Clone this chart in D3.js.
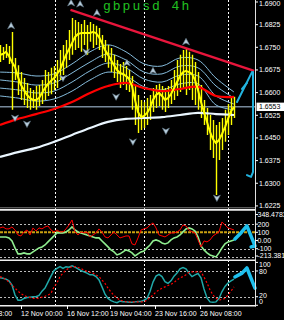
<!DOCTYPE html>
<html><head><meta charset="utf-8">
<script src="https://cdn.jsdelivr.net/npm/d3@7"></script>
<style>
html,body{margin:0;padding:0;background:#000;overflow:hidden}
svg{display:block}
text{font-family:"Liberation Sans",Arial,sans-serif}
</style></head><body>
<svg id="c" width="284" height="320"></svg>
<script>
// ---------- data ----------
const closeP = [1.6725,1.6728,1.6735,1.6721,1.6701,1.6685,1.6652,1.6625,1.6609,1.6592,
1.6582,1.6576,1.6576,1.6582,1.6599,1.6615,1.6629,1.6639,1.6648,1.6662,
1.6675,1.6701,1.6725,1.6744,1.6764,1.6784,1.6794,1.6797,1.6797,1.6797,
1.6797,1.6801,1.6797,1.6784,1.6764,1.6741,1.6725,1.6708,1.6691,1.6675,
1.6665,1.6662,1.6655,1.6645,1.6622,1.6576,1.6536,1.6519,1.6523,1.6533,
1.6549,1.6576,1.6592,1.6599,1.6589,1.6576,1.6582,1.6595,1.6615,1.6635,
1.6655,1.6668,1.6672,1.6668,1.6662,1.6642,1.6609,1.6569,1.6536,1.6503,
1.6470,1.6446,1.6433,1.6443,1.6463,1.6486,1.6513,1.6539,1.6552];
const highP = [1.6758,1.6751,1.6761,1.6754,1.6801,1.6715,1.6691,1.6668,1.6648,1.6632,
1.6615,1.6609,1.6622,1.6625,1.6642,1.6675,1.6668,1.6682,1.6688,1.6708,
1.6741,1.6758,1.6774,1.6807,1.6847,1.6840,1.6834,1.6827,1.6840,1.6824,
1.6834,1.6827,1.6821,1.6814,1.6791,1.6774,1.6758,1.6748,1.6725,1.6708,
1.6695,1.6701,1.6688,1.6675,1.6655,1.6625,1.6592,1.6576,1.6569,1.6582,
1.6592,1.6615,1.6625,1.6629,1.6622,1.6615,1.6622,1.6642,1.6675,1.6708,
1.6725,1.6741,1.6748,1.6735,1.6725,1.6701,1.6668,1.6625,1.6576,1.6549,
1.6526,1.6509,1.6493,1.6503,1.6516,1.6543,1.6562,1.6586,1.6586];
const lowP = [1.6701,1.6708,1.6715,1.6695,1.6543,1.6642,1.6592,1.6576,1.6559,1.6549,
1.6543,1.6549,1.6543,1.6556,1.6562,1.6576,1.6589,1.6595,1.6609,1.6615,
1.6642,1.6658,1.6682,1.6708,1.6725,1.6741,1.6748,1.6735,1.6758,1.6725,
1.6768,1.6748,1.6758,1.6741,1.6715,1.6701,1.6682,1.6668,1.6648,1.6635,
1.6615,1.6625,1.6609,1.6602,1.6543,1.6493,1.6466,1.6476,1.6483,1.6493,
1.6509,1.6536,1.6549,1.6556,1.6543,1.6536,1.6549,1.6562,1.6576,1.6589,
1.6602,1.6615,1.6592,1.6609,1.6576,1.6559,1.6543,1.6516,1.6493,1.6460,
1.6410,1.6384,1.6261,1.6377,1.6410,1.6437,1.6460,1.6493,1.6516];

const maIdx   = [0,6,12,18,24,30,36,42,48,54,60,66,72,78];
const maRed   = [1.6493,1.6513,1.6529,1.6546,1.6569,1.6599,1.6622,1.6632,1.6615,1.6605,1.6612,1.6619,1.6589,1.6586];
const maWhite = [1.6387,1.6403,1.6417,1.6437,1.6460,1.6483,1.6503,1.6513,1.6516,1.6519,1.6526,1.6533,1.6529,1.6526];
const env1 = [1.6668,1.6665,1.6655,1.6662,1.6695,1.6735,1.6758,1.6735,1.6695,1.6688,1.6715,1.6708,1.6648,1.6602];
const env2 = [1.6642,1.6635,1.6625,1.6632,1.6665,1.6701,1.6728,1.6708,1.6668,1.6662,1.6688,1.6682,1.6622,1.6582];
const env3 = [1.6615,1.6609,1.6599,1.6605,1.6635,1.6672,1.6698,1.6682,1.6645,1.6635,1.6658,1.6655,1.6589,1.6562];
const env4 = [1.6589,1.6582,1.6572,1.6579,1.6605,1.6642,1.6668,1.6655,1.6619,1.6609,1.6629,1.6629,1.6559,1.6543];

const upFracIdx = [3.7,23.7,26.7,32.3,42.3,51,62];
const upFracP   = [1.6821,1.6897,1.6893,1.6864,1.6698,1.6672,1.6768];
const dnFracIdx = [5,9,21,28.7,38.7,44.3,55.3,72.3];
const dnFracP   = [1.6516,1.6496,1.6648,1.6735,1.6586,1.6437,1.6473,1.6251];

const trendIdx = [23.5,84.7];
const trendP   = [1.6874,1.6672];
const lastPrice = 1.6553;
const priceTicks = [1.6900,1.6825,1.6750,1.6675,1.6600,1.6525,1.6450,1.6375,1.6300,1.6225];

const cyanArrowIdx = [79,84];            const cyanArrowP = [1.6569,1.6668];
const cyanTickIdx  = [80.67,82.33];      const cyanTickP  = [1.6612,1.6632];
const cyanVertIdx  = [84.33,84.33,83.67,82.33]; const cyanVertP = [1.6668,1.6337,1.6321,1.6327];

const cciRed = [154,166,142,142,166,129,68,56,105,129,
68,154,117,154,142,166,178,129,105,129,
105,105,142,190,251,105,68,105,93,105,
44,68,93,142,105,44,32,68,105,68,
32,44,56,56,-41,-54,32,129,142,154,
190,215,154,68,56,44,68,93,93,105,
129,190,178,129,105,93,7,-78,-5,-17,
7,56,81,105,227,190,154,142,129];
const cciGreen = [44,44,44,32,-5,-90,-163,-163,-151,-163,
-163,-139,-115,-90,-78,-54,-17,20,56,93,
93,93,105,129,166,129,105,93,81,68,
56,44,32,32,-5,-41,-78,-115,-139,-176,
-163,-139,-115,-127,-151,-188,-163,-139,-127,-90,
-54,-5,7,-5,-29,-41,-29,7,32,44,
68,105,142,154,142,117,44,-66,-115,-151,
-176,-188,-200,-151,-90,-41,-17,-5,7];
const cciMax = 348.4783, cciMin = -213.381;
const cciGrayLevels = [200,-100,-200];
const cciGoldLevel = 100;
const cciLabelVals = [348.4783,200,100,0,-100,-213.381];
const cciLabelTxt  = ["348.4783","200","100","0.00","-100","-213.381"];
const cciCyanIdx = [78.3,80.3,82.3,85,83.7];
const cciCyanV   = [20,93,178,-66,-78];

const stochMain = [64,63,61,57,47,24,12,12,16,18,
19,20,20,23,33,40,54,68,81,86,
90,86,90,89,92,89,85,81,78,75,
71,71,67,59,43,26,16,11,8,6,
10,8,8,7,7,8,9,9,12,16,
32,54,68,72,67,55,51,57,68,75,
85,88,85,75,67,71,74,64,38,17,
8,7,8,16,32,44,52,57,61];
const stochSignal = [67,64,60,54,47,40,33,27,23,20,
18,16,16,17,19,21,24,28,43,52,
67,75,82,87,90,90,88,86,82,79,
77,75,71,67,59,51,40,31,23,17,
12,10,8,8,8,8,8,8,8,12,
18,24,31,36,40,43,46,49,53,59,
64,67,71,77,78,78,78,78,66,52,
36,24,17,12,14,16,24,33,43];
const stochLevels = [80,20];
const stochLabelVals = [100,80,20,0];
const stochLabelTxt  = ["100","80","20","0"];
const stochCyanIdx = [78.3,80.7,82.3,85];
const stochCyanV   = [66,75,87,40];

const timeIdx = [-8.5,7,22.33,36.67,51.67,66.67];
const timeLabels = ["8 Nov 08:00","12 Nov 00:00","16 Nov 12:00","19 Nov 04:00","23 Nov 16:00","26 Nov 08:00"];
const sepIdx = [18.33,48,76];
const title = "gbpusd 4h";

// ---------- scales ----------
const svg = d3.select('#c');
const x  = d3.scaleLinear().domain([0,85]).range([0,255]);
const yM = d3.scaleLinear().domain([1.62181,1.69066]).range([208,0]);
const yC = d3.scaleLinear().domain([cciMin,cciMax]).range([258,212]);
const yS = d3.scaleLinear().domain([0,100]).range([305.3,262.4]);
const AX = 255.5;

svg.append('rect').attr('width',284).attr('height',320).attr('fill','#000');
const defs = svg.append('defs');
function clip(id,y0,h){defs.append('clipPath').attr('id',id).append('rect').attr('x',0).attr('y',y0).attr('width',AX).attr('height',h);}
clip('cm',0,208); clip('c1',211,48); clip('c2',261,44);

// separators (all panels)
svg.append('g').selectAll('line').data(sepIdx).join('line')
  .attr('x1',d=>Math.round(x(d))+0.5).attr('x2',d=>Math.round(x(d))+0.5)
  .attr('y1',0).attr('y2',305).attr('stroke','#fff').attr('stroke-width',1).attr('stroke-dasharray','2,2');

// ---------- main panel ----------
const gm = svg.append('g').attr('clip-path','url(#cm)');
gm.append('line').attr('x1',0).attr('x2',AX).attr('y1',yM(lastPrice)).attr('y2',yM(lastPrice))
  .attr('stroke','#778899').attr('stroke-width',1.5);

const lineMA = d3.line().x((d,i)=>x(maIdx[i])).y(d=>yM(d)).curve(d3.curveCatmullRom);
[env1,env2,env3,env4].forEach(e=>gm.append('path').attr('d',lineMA(e)).attr('fill','none').attr('stroke','#86bcdc').attr('stroke-width',1));

gm.append('g').selectAll('line').data(closeP).join('line')
  .attr('x1',(d,i)=>Math.round(x(i))+0.5).attr('x2',(d,i)=>Math.round(x(i))+0.5)
  .attr('y1',(d,i)=>yM(highP[i])).attr('y2',(d,i)=>yM(lowP[i]))
  .attr('stroke','#ffff00').attr('stroke-width',1.4);

gm.append('path').attr('d',lineMA(maWhite)).attr('fill','none').attr('stroke','#eaf6ff').attr('stroke-width',2.2);
gm.append('path').attr('d',lineMA(maRed)).attr('fill','none').attr('stroke','#ff0000').attr('stroke-width',2.2);

const lineClose = d3.line().x((d,i)=>x(i)).y(d=>yM(d));
gm.append('path').attr('d',lineClose(closeP)).attr('fill','none').attr('stroke','#ffff00').attr('stroke-width',2).attr('stroke-linejoin','round');

const pt = (ix,py)=>ix.map((v,i)=>[x(v),yM(py[i])]);
gm.append('path').attr('d',d3.line()(pt(trendIdx,trendP))).attr('stroke','#e8163c').attr('stroke-width',2.2).attr('fill','none');

// fractals
const upPath = 'M0,-3.5L3.5,3L0,1.2L-3.5,3Z', dnPath = 'M0,3.5L3.5,-3L0,-1.2L-3.5,-3Z';
gm.append('g').selectAll('path').data(upFracIdx).join('path')
  .attr('transform',(d,i)=>`translate(${x(d)},${yM(upFracP[i])})`).attr('d',upPath)
  .attr('fill','#b8cddc').attr('stroke','#5f7585').attr('stroke-width',0.6);
gm.append('g').selectAll('path').data(dnFracIdx).join('path')
  .attr('transform',(d,i)=>`translate(${x(d)},${yM(dnFracP[i])})`).attr('d',dnPath)
  .attr('fill','#b8cddc').attr('stroke','#5f7585').attr('stroke-width',0.6);

// cyan annotations in main panel
const gcy = svg.append('g').attr('fill','none').attr('stroke','#22b4e0').attr('stroke-width',2).attr('stroke-linecap','round').attr('stroke-linejoin','round');
gcy.append('path').attr('d',d3.line()(pt(cyanArrowIdx,cyanArrowP)));
gcy.append('path').attr('d',d3.line()(pt(cyanTickIdx,cyanTickP)));
gcy.append('path').attr('d',d3.line()(pt(cyanVertIdx,cyanVertP)));

// title
svg.append('text').attr('x',103).attr('y',10).text(title)
  .attr('fill','#20c020').style('font-family','"Liberation Mono",monospace').style('font-size','13px').style('letter-spacing','2px');

// ---------- panel 1 (CCI) ----------
const g1 = svg.append('g').attr('clip-path','url(#c1)');
g1.selectAll('line.lv').data(cciGrayLevels).join('line').attr('class','lv')
  .attr('x1',0).attr('x2',AX).attr('y1',d=>Math.round(yC(d))+0.5).attr('y2',d=>Math.round(yC(d))+0.5)
  .attr('stroke','#bbbbbb').attr('stroke-width',1).attr('stroke-dasharray','2,2');
g1.append('line').attr('x1',0).attr('x2',AX).attr('y1',yC(cciGoldLevel)).attr('y2',yC(cciGoldLevel))
  .attr('stroke','#c9a010').attr('stroke-width',2).attr('stroke-dasharray','3,1');
const lineC = d3.line().x((d,i)=>x(i)).y(d=>yC(d));
g1.append('path').attr('d',lineC(cciGreen)).attr('fill','none').attr('stroke','#90ee90').attr('stroke-width',1.6);
g1.append('path').attr('d',lineC(cciRed)).attr('fill','none').attr('stroke','#ff0000').attr('stroke-width',1);
svg.append('path').attr('d',d3.line()(cciCyanIdx.map((v,i)=>[x(v),yC(cciCyanV[i])])))
  .attr('fill','none').attr('stroke','#1ec0ee').attr('stroke-width',3.5).attr('stroke-linejoin','round').attr('stroke-linecap','round');

// ---------- panel 2 (Stochastic) ----------
const g2 = svg.append('g').attr('clip-path','url(#c2)');
g2.selectAll('line.lv').data(stochLevels).join('line').attr('class','lv')
  .attr('x1',0).attr('x2',AX).attr('y1',d=>Math.round(yS(d))+0.5).attr('y2',d=>Math.round(yS(d))+0.5)
  .attr('stroke','#bbbbbb').attr('stroke-width',1).attr('stroke-dasharray','2,2');
const lineS = d3.line().x((d,i)=>x(i)).y(d=>yS(d));
g2.append('path').attr('d',lineS(stochMain)).attr('fill','none').attr('stroke','#20a8a8').attr('stroke-width',1.5);
g2.append('path').attr('d',lineS(stochSignal)).attr('fill','none').attr('stroke','#ff0000').attr('stroke-width',1.2).attr('stroke-dasharray','2,2');
svg.append('path').attr('d',d3.line()(stochCyanIdx.map((v,i)=>[x(v),yS(stochCyanV[i])])))
  .attr('fill','none').attr('stroke','#1ec0ee').attr('stroke-width',3.5).attr('stroke-linejoin','round').attr('stroke-linecap','round');

// ---------- frames ----------
const fr = svg.append('g');
fr.append('line').attr('x1',0).attr('x2',AX).attr('y1',207.8).attr('y2',207.8).attr('stroke','#808080').attr('stroke-width',1);
[209.9,260.2,305.8].forEach(y=>fr.append('line').attr('x1',0).attr('x2',AX+0.5).attr('y1',y).attr('y2',y).attr('stroke','#f0f0f0').attr('stroke-width',1.6));
fr.append('line').attr('x1',AX).attr('x2',AX).attr('y1',0).attr('y2',306.5).attr('stroke','#e0e0e0').attr('stroke-width',1);

// ---------- axes labels ----------
const lab = svg.append('g').style('font-size','7px').attr('fill','#ffffff');
priceTicks.forEach(v=>{
  const y = yM(v);
  fr.append('line').attr('x1',AX).attr('x2',AX+2.5).attr('y1',y).attr('y2',y).attr('stroke','#fff').attr('stroke-width',1);
  lab.append('text').attr('x',259).attr('y',Math.max(3.6,y)).attr('dy','0.35em').text(v.toFixed(4));
});
// current price box
const yl = yM(lastPrice);
svg.append('rect').attr('x',256.5).attr('y',yl-4.2).attr('width',28).attr('height',8.4).attr('fill','#ffffff');
svg.append('text').attr('x',259).attr('y',yl).attr('dy','0.35em').style('font-size','7px').attr('fill','#000').text(lastPrice.toFixed(4));

cciLabelVals.forEach((v,i)=>{
  const y = Math.max(214.5,Math.min(256,yC(v)));
  fr.append('line').attr('x1',AX).attr('x2',AX+2.5).attr('y1',y).attr('y2',y).attr('stroke','#fff');
  lab.append('text').attr('x',257.5).attr('y',y).attr('dy','0.35em').text(cciLabelTxt[i]);
});
const stochLabelY = v => Math.max(265,Math.min(301.8,yS(v) + (v===20?-1.6:0) + (v===80?0.6:0)));
stochLabelVals.forEach((v,i)=>{
  const y = stochLabelY(v);
  fr.append('line').attr('x1',AX).attr('x2',AX+2.5).attr('y1',yS(v)).attr('y2',yS(v)).attr('stroke','#fff');
  lab.append('text').attr('x',259).attr('y',y).attr('dy','0.35em').text(stochLabelTxt[i]);
});
timeIdx.forEach((v,i)=>{
  const xx = Math.round(x(v))+0.5;
  fr.append('line').attr('x1',xx).attr('x2',xx).attr('y1',305.8).attr('y2',309).attr('stroke','#fff');
  lab.append('text').attr('x',x(v)).attr('y',315.7).text(timeLabels[i]);
});
</script>
</body></html>
